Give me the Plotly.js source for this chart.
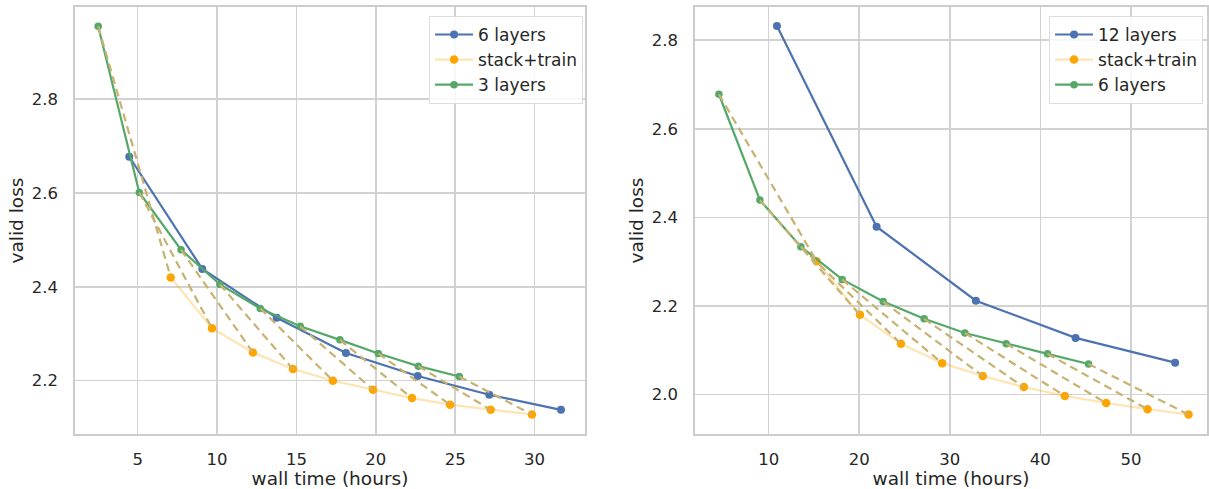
<!DOCTYPE html>
<html>
<head>
<meta charset="utf-8">
<script src="https://cdn.plot.ly/plotly-3.0.1.min.js"></script>
<style>html,body{margin:0;padding:0;background:#fff;}#chart{width:1209px;height:489px;}</style>
</head>
<body>
<div id="chart"></div>
<script>
// ---- Left panel data ----
const leftXTicks = [5, 10, 15, 20, 25, 30];
const left6LayersX = [4.47, 9.07, 13.76, 18.12, 22.64, 27.15, 31.67];
const left6LayersY = [2.677, 2.438, 2.334, 2.259, 2.210, 2.170, 2.138];
const leftStackX = [7.08, 9.68, 12.26, 14.78, 17.30, 19.82, 22.28, 24.68, 27.24, 29.84];
const leftStackY = [2.420, 2.312, 2.260, 2.225, 2.200, 2.181, 2.163, 2.149, 2.138, 2.128];
const left3LayersX = [2.51, 5.10, 7.73, 10.18, 12.72, 15.24, 17.74, 20.16, 22.68, 25.26];
const left3LayersY = [2.955, 2.601, 2.479, 2.405, 2.354, 2.316, 2.287, 2.258, 2.231, 2.209];
const leftNames = ["6 layers", "stack+train", "3 layers"];

// ---- Right panel data ----
const rightXTicks = [10, 20, 30, 40, 50];
const right12LayersX = [10.92, 21.92, 32.88, 43.89, 54.88];
const right12LayersY = [2.832, 2.379, 2.212, 2.128, 2.072];
const rightStackX = [15.30, 20.08, 24.60, 29.16, 33.65, 38.18, 42.70, 47.26, 51.83, 56.36];
const rightStackY = [2.301, 2.180, 2.115, 2.071, 2.042, 2.017, 1.997, 1.981, 1.967, 1.955];
const right6LayersX = [4.51, 9.04, 13.56, 18.12, 22.65, 27.17, 31.67, 36.23, 40.79, 45.32];
const right6LayersY = [2.678, 2.439, 2.334, 2.260, 2.210, 2.171, 2.139, 2.115, 2.092, 2.069];
const rightNames = ["12 layers", "stack+train", "6 layers"];

const BLUE = "#4c72b0", GREEN = "#55a868", ORANGE = "#ffa500";
const ORANGE_LINE = "rgba(255,165,0,0.3)", DASH = "rgb(200,178,112)";
const FONT = "DejaVu Sans, sans-serif", TXT = "#262626";

function connectors(x0, y0, x1, y1) {
  const xs = [], ys = [];
  for (let i = 0; i < x0.length; i++) {
    xs.push(x0[i], x1[i], null);
    ys.push(y0[i], y1[i], null);
  }
  return {xs, ys};
}

function panel(bigX, bigY, stX, stY, smallX, smallY, names, xa, ya, leg) {
  const c = connectors(smallX, smallY, stX, stY);
  return [
    {x: bigX, y: bigY, name: names[0], mode: "lines+markers", xaxis: xa, yaxis: ya, legend: leg,
     line: {color: BLUE, width: 2.2}, marker: {color: BLUE, size: 8}},
    {x: stX, y: stY, name: names[1], mode: "lines+markers", xaxis: xa, yaxis: ya, legend: leg,
     line: {color: ORANGE_LINE, width: 2.2}, marker: {color: ORANGE, size: 8.5}},
    {x: smallX, y: smallY, name: names[2], mode: "lines+markers", xaxis: xa, yaxis: ya, legend: leg,
     line: {color: GREEN, width: 2.2}, marker: {color: GREEN, size: 7.5}},
    {x: c.xs, y: c.ys, mode: "lines", showlegend: false, xaxis: xa, yaxis: ya, hoverinfo: "skip",
     connectgaps: false, line: {color: DASH, width: 2.2, dash: "8px,5px"}}
  ];
}

const data = [].concat(
  panel(left6LayersX, left6LayersY, leftStackX, leftStackY, left3LayersX, left3LayersY, leftNames, "x", "y", "legend"),
  panel(right12LayersX, right12LayersY, rightStackX, rightStackY, right6LayersX, right6LayersY, rightNames, "x2", "y2", "legend2")
);

const axCommon = {
  showgrid: true, gridcolor: "#d2d2d2", gridwidth: 1.5,
  showline: true, linecolor: "#cccccc", linewidth: 1.8, mirror: true,
  zeroline: false, ticks: "", tickfont: {family: FONT, size: 16.5, color: TXT}
};
const titleFont = {family: FONT, size: 18.5, color: TXT};

const legCommon = {
  font: {family: FONT, size: 17, color: TXT},
  bgcolor: "rgba(255,255,255,0.85)", bordercolor: "#dcdcdc", borderwidth: 1,
  xanchor: "right", yanchor: "top", y: 0.979, traceorder: "normal", itemwidth: 38
};

const layout = {
  width: 1209, height: 489,
  margin: {l: 75, r: 2, t: 7, b: 55},
  paper_bgcolor: "#fff", plot_bgcolor: "#fff",
  font: {family: FONT, color: TXT},
  showlegend: true,
  xaxis: Object.assign({}, axCommon, {domain: [0, 0.4505], range: [1.05, 33.18],
    tickvals: leftXTicks, ticklabelstandoff: 9,
    title: {text: "wall time (hours)", font: titleFont, standoff: 4}}),
  yaxis: Object.assign({}, axCommon, {range: [2.0865, 2.996], dtick: 0.2, tick0: 2.0,
    tickformat: ".1f", ticklabelstandoff: 12,
    title: {text: "valid loss", font: titleFont, standoff: 3}}),
  xaxis2: Object.assign({}, axCommon, {domain: [0.5477, 1], range: [1.87, 58.4], anchor: "y2",
    tickvals: rightXTicks, ticklabelstandoff: 9,
    title: {text: "wall time (hours)", font: titleFont, standoff: 4}}),
  yaxis2: Object.assign({}, axCommon, {range: [1.911, 2.875], dtick: 0.2, tick0: 2.0, anchor: "x2",
    tickformat: ".1f", ticklabelstandoff: 12,
    title: {text: "valid loss", font: titleFont, standoff: 3}}),
  legend: Object.assign({}, legCommon, {x: 0.4488}),
  legend2: Object.assign({}, legCommon, {x: 0.9965})
};

Plotly.newPlot("chart", data, layout, {displayModeBar: false, staticPlot: true});
</script>
</body>
</html>
